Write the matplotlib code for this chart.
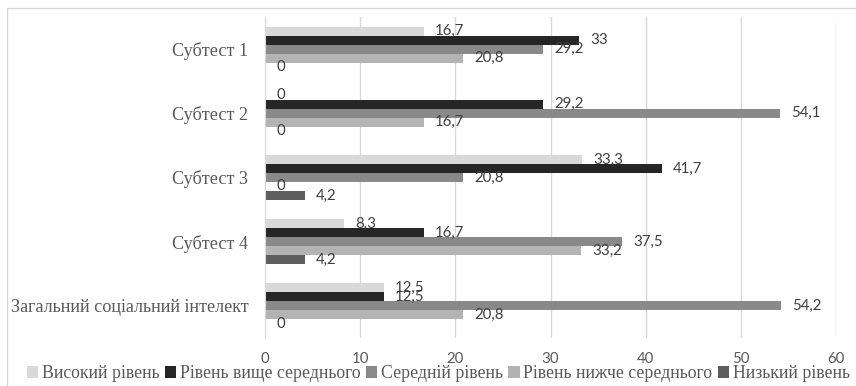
"""
Social intelligence subtests: horizontal grouped bars
"""

import numpy as np
import matplotlib.pyplot as plt
from matplotlib.patches import Rectangle

categories = ["Субтест 1", "Субтест 2", "Субтест 3", "Субтест 4",
              "Загальний соціальний інтелект"]
series_names = ["Високий рівень", "Рівень вище середнього", "Середній рівень",
                "Рівень нижче середнього", "Низький рівень"]
high = [16.7, 0, 33.3, 8.3, 12.5]
above_avg = [33, 29.2, 41.7, 16.7, 12.5]
average = [29.2, 54.1, 20.8, 37.5, 54.2]
below_avg = [20.8, 16.7, 0, 33.2, 20.8]
low = [0, 0, 4.2, 4.2, 0]
xticks = [0, 10, 20, 30, 40, 50, 60]

series = [high, above_avg, average, below_avg, low]
colors = ["#d9d9d9", "#262626", "#898989", "#b3b3b3", "#5e5e5e"]

serif = ["Liberation Serif", "DejaVu Serif"]
sans = ["Lato", "DejaVu Sans"]

fig = plt.figure(figsize=(8.56, 3.86), dpi=100)
ax = fig.add_axes([265 / 856, 1 - 338 / 386, 571 / 856, 321 / 386])

# chart frame (only top and left edges are visible in the original)
fig.patches.append(Rectangle((7 / 856, -0.1), 2, 1.1 - 8 / 386,
                             transform=fig.transFigure, fill=False,
                             edgecolor="#d9d9d9", linewidth=1.0))

bar_h = 0.14
y = np.arange(len(categories))
for i, (vals, name, col) in enumerate(zip(series, series_names, colors)):
    pos = y - 0.35 + bar_h * (i + 0.5)
    ax.barh(pos, vals, height=bar_h, color=col, label=name)
    for p, v in zip(pos, vals):
        ax.annotate(f"{v:g}".replace(".", ","), (v, p), xytext=(8, 0),
                    textcoords="offset points", va="center", ha="left",
                    fontsize=10.8, color="#404040", family=sans)

ax.set_ylim(len(categories) - 0.5, -0.5)
ax.set_xlim(0, 60)
ax.set_xticks(xticks)
ax.set_xticklabels([str(t) for t in xticks], family=sans, fontsize=10.8,
                   color="#595959")
ax.set_yticks(y)
ax.set_yticklabels(categories, family=serif, fontsize=13.1, color="#595959")
ax.tick_params(axis="both", length=0)
ax.tick_params(axis="x", pad=10)
ax.tick_params(axis="y", pad=12)
ax.grid(axis="x", color="#d9d9d9", linewidth=1.0)
ax.set_axisbelow(True)
for s in ["top", "right", "bottom"]:
    ax.spines[s].set_visible(False)
ax.spines["left"].set_color("#d9d9d9")

fig.legend(loc="center", bbox_to_anchor=(0.512, 1 - 374 / 386), ncol=5,
           frameon=False, handlelength=0.65, handleheight=0.65,
           handletextpad=0.2, columnspacing=0.3,
           prop={"family": serif, "size": 12.8}, labelcolor="#595959")

fig.savefig("out.png", dpi=100)
